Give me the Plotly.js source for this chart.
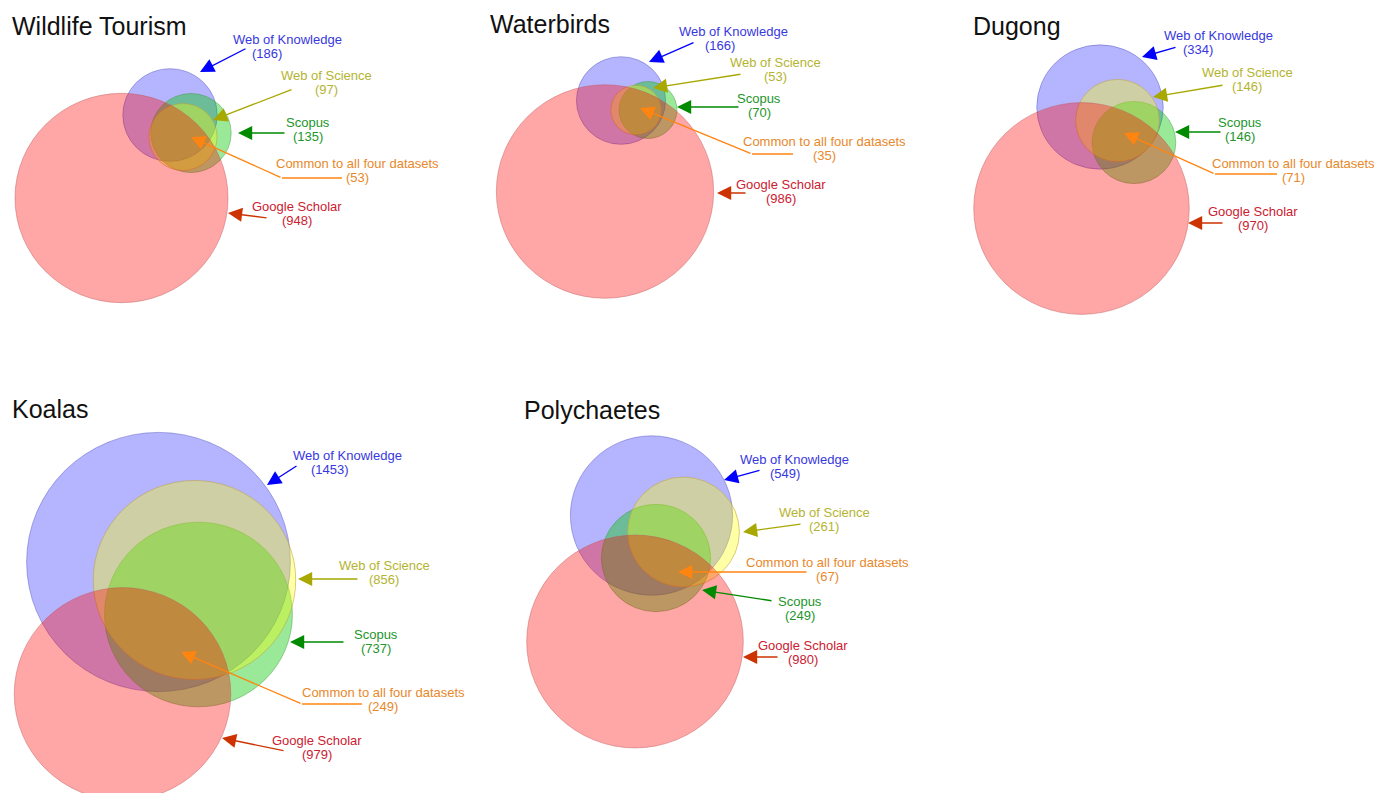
<!DOCTYPE html>
<html>
<head>
<meta charset="utf-8">
<script src="https://cdn.plot.ly/plotly-3.0.1.min.js"></script>
<style>
html,body{margin:0;padding:0;background:#ffffff;}
#chart{width:1376px;height:793px;}
</style>
</head>
<body>
<div id="chart"></div>
<script>
// ---------------- DATA ----------------
const panels = ["Wildlife Tourism", "Waterbirds", "Dugong", "Koalas", "Polychaetes"];
const sources = ["Web of Knowledge", "Web of Science", "Scopus", "Common to all four datasets", "Google Scholar"];
const webOfKnowledge = [186, 166, 334, 1453, 549];
const webOfScience   = [97, 53, 146, 856, 261];
const scopus         = [135, 70, 146, 737, 249];
const commonToAll    = [53, 35, 71, 249, 67];
const googleScholar  = [948, 986, 970, 979, 980];

// ---------------- STYLE / LAYOUT ----------------
const FONT = "Liberation Sans, Arial, Helvetica, sans-serif";
const RX = 3.46, RY = 3.40;   // circle area proportional to count
const LINE_GAP = 14;

const keys = ["wok", "wos", "sco", "com", "gs"];
const values = {wok: webOfKnowledge, wos: webOfScience, sco: scopus, com: commonToAll, gs: googleScholar};
const style = {
  wok: {fill: "rgba(0,0,255,0.29)",   line: "rgba(80,80,190,0.45)",  text: "#3838de", arrow: "#0000ff"},
  wos: {fill: "rgba(255,255,0,0.35)", line: "rgba(190,160,60,0.55)", text: "#b4b430", arrow: "#a8a800"},
  sco: {fill: "rgba(0,200,0,0.40)",   line: "rgba(60,150,60,0.45)",  text: "#22962a", arrow: "#008a00"},
  com: {text: "#e8882a", arrow: "#ff8410"},
  gs:  {fill: "rgba(255,0,0,0.35)",   line: "rgba(190,90,90,0.45)",  text: "#cc2030", arrow: "#cc3300"}
};
const drawOrder = ["wok", "sco", "wos", "gs"];

// positions in page pixels
const panelLayout = [
  { title: [10, 26],
    centers: {wok: [170, 115], wos: [183, 137], sco: [191, 133], gs: [121.5, 198]},
    labels: {
      wok: {pos: [287, 39, 267], tail: [247, 48], tip: [200, 72]},
      wos: {pos: [326, 75, 326], tail: [293, 89], tip: [213, 120]},
      sco: {pos: [308, 122, 308], tail: [286, 133], tip: [238, 133]},
      com: {pos: [357, 163, 357], elbow: [342, 178], tail: [282, 178], tip: [191, 137]},
      gs:  {pos: [297, 206, 297], tail: [268, 218], tip: [228, 213]}
    }},
  { title: [488, 24],
    centers: {wok: [621, 100.5], wos: [636, 110], sco: [648, 110], gs: [605, 191.5]},
    labels: {
      wok: {pos: [733, 31, 720], tail: [695, 42], tip: [649, 62]},
      wos: {pos: [775, 62, 775], tail: [742, 74], tip: [653, 88]},
      sco: {pos: [759, 98, 759], tail: [740, 107], tip: [677, 107]},
      com: {pos: [824, 141, 824], elbow: [793, 154], tail: [752, 154], tip: [640, 108]},
      gs:  {pos: [781, 184, 781], tail: [747, 193], tip: [717, 193]}
    }},
  { title: [971, 25.5],
    centers: {wok: [1100, 107], wos: [1117.5, 120.5], sco: [1134, 142.5], gs: [1081.5, 208.5]},
    labels: {
      wok: {pos: [1218, 35, 1198], tail: [1177, 47], tip: [1142, 57]},
      wos: {pos: [1247, 72, 1247], tail: [1224, 85], tip: [1153, 97]},
      sco: {pos: [1240, 122, 1240], tail: [1222, 132], tip: [1175, 132]},
      com: {pos: [1293, 163, 1293], elbow: [1277, 174], tail: [1215, 174], tip: [1124, 133]},
      gs:  {pos: [1253, 211, 1253], tail: [1224, 223], tip: [1188, 223]}
    }},
  { title: [10, 408.5],
    centers: {wok: [158.5, 562], wos: [194.5, 580], sco: [198.5, 614.5], gs: [122.5, 694]},
    labels: {
      wok: {pos: [347, 455, 330], tail: [298, 465], tip: [267, 485]},
      wos: {pos: [384, 565, 384], tail: [359, 579], tip: [298, 579]},
      sco: {pos: [376, 634, 376], tail: [345, 642], tip: [290, 642]},
      com: {pos: [383, 692, 383], elbow: [362, 704], tail: [302, 704], tip: [181, 652]},
      gs:  {pos: [317, 740, 317], tail: [285, 751], tip: [222, 738]}
    }},
  { title: [522, 410],
    centers: {wok: [651.5, 515.5], wos: [683.5, 532], sco: [656, 558], gs: [635, 641.5]},
    labels: {
      wok: {pos: [794, 459, 785], tail: [761, 470], tip: [724, 480]},
      wos: {pos: [824, 512, 824], tail: [802, 524], tip: [743, 532]},
      sco: {pos: [800, 601, 800], tail: [773, 601], tip: [702, 590]},
      com: {pos: [827, 562, 827], tail: [808, 572], tip: [678, 572]},
      gs:  {pos: [803, 645, 803], tail: [779, 657], tip: [743, 657]}
    }}
];

// ---------------- BUILD ----------------
const shapes = [];
const annotations = [];

panels.forEach((name, p) => {
  const L = panelLayout[p];
  // title
  annotations.push({
    xref: "x", yref: "y", x: L.title[0], y: L.title[1], xanchor: "left", yanchor: "middle",
    text: name, showarrow: false, font: {family: FONT, size: 25, color: "#111111"}
  });
  // circles (area proportional to count)
  drawOrder.forEach(k => {
    const n = values[k][p];
    const c = L.centers[k];
    const rx = RX * Math.sqrt(n), ry = RY * Math.sqrt(n);
    shapes.push({
      type: "circle", xref: "x", yref: "y",
      x0: c[0] - rx, x1: c[0] + rx, y0: c[1] - ry, y1: c[1] + ry,
      fillcolor: style[k].fill, line: {color: style[k].line, width: 1}, layer: "above"
    });
  });
  // labels and arrows
  keys.forEach((k, i) => {
    const lab = L.labels[k];
    const st = style[k];
    annotations.push({
      xref: "x", yref: "y", x: lab.pos[0], y: lab.pos[1], xanchor: "center", yanchor: "middle",
      text: sources[i], showarrow: false, font: {family: FONT, size: 13, color: st.text}
    });
    annotations.push({
      xref: "x", yref: "y", x: lab.pos[2], y: lab.pos[1] + LINE_GAP, xanchor: "center", yanchor: "middle",
      text: "(" + values[k][p] + ")", showarrow: false, font: {family: FONT, size: 13, color: st.text}
    });
    if (lab.elbow) {
      shapes.push({
        type: "line", xref: "x", yref: "y",
        x0: lab.elbow[0], y0: lab.elbow[1], x1: lab.tail[0], y1: lab.tail[1],
        line: {color: st.arrow, width: 1.3}
      });
    }
    annotations.push({
      xref: "x", yref: "y", x: lab.tip[0], y: lab.tip[1],
      axref: "x", ayref: "y", ax: lab.tail[0], ay: lab.tail[1],
      text: " ", font: {size: 1}, showarrow: true,
      arrowhead: 2, arrowsize: 2.1, arrowwidth: 1.35, arrowcolor: st.arrow,
      standoff: 0, startstandoff: 0
    });
  });
});

const layout = {
  width: 1376, height: 793,
  margin: {l: 0, r: 0, t: 0, b: 0, pad: 0},
  paper_bgcolor: "#ffffff", plot_bgcolor: "#ffffff",
  showlegend: false,
  xaxis: {range: [0, 1376], visible: false, fixedrange: true},
  yaxis: {range: [793, 0], visible: false, fixedrange: true},
  shapes: shapes,
  annotations: annotations
};

Plotly.newPlot("chart", [{type: "scatter", x: [], y: [], hoverinfo: "skip", showlegend: false}], layout,
  {displayModeBar: false, staticPlot: true});
</script>
</body>
</html>
